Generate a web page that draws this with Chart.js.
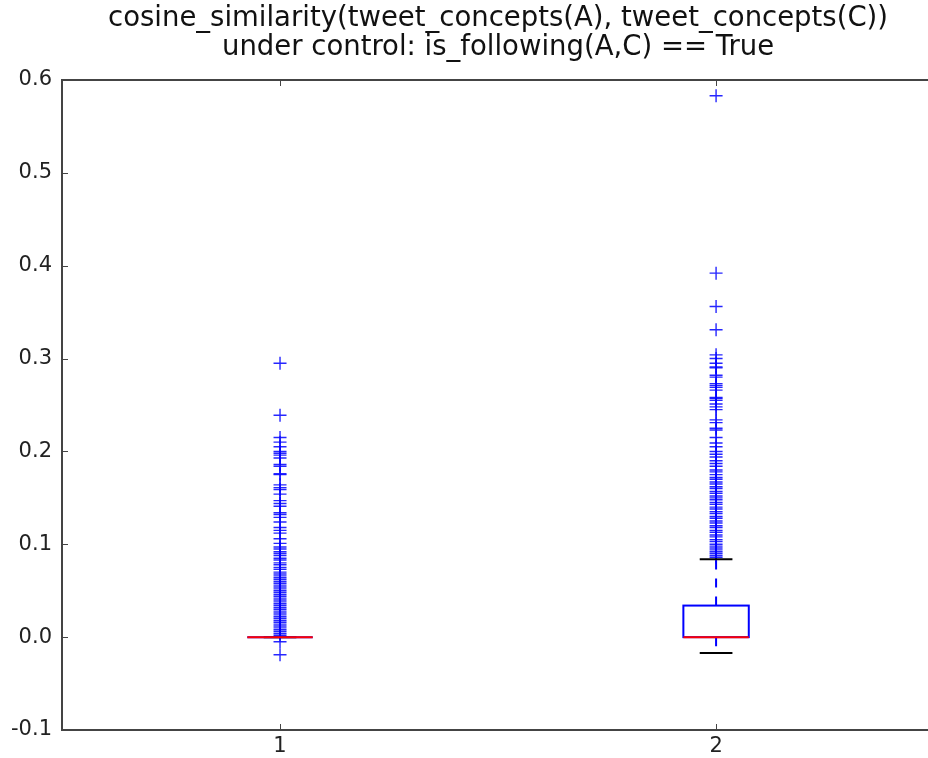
<!DOCTYPE html>
<html>
<head>
<meta charset="utf-8">
<script src="https://cdn.jsdelivr.net/npm/chart.js@4"></script>
<style>
  html, body { margin: 0; padding: 0; background: #fff; overflow: hidden; }
  #wrap { width: 928px; height: 758px; }
  canvas { display: block; }
</style>
</head>
<body>
<div id="wrap"><canvas id="boxChart" width="928" height="758"></canvas></div>
<script>
const titleLines = ['cosine_similarity(tweet_concepts(A), tweet_concepts(C))', 'under control: is_following(A,C) == True'];
const categories = ['1', '2'];
const xTicks = [1, 2];
const yTicks = [-0.1, 0.0, 0.1, 0.2, 0.3, 0.4, 0.5, 0.6];

// box stats per category
const q1 = [0, 0];
const medians = [0, 0];
const q3 = [0, 0.034];
const whiskerLow = [0, -0.017];
const whiskerHigh = [0, 0.084];

// fliers
const outliers1 = [0.295, 0.239, 0.215, 0.21, 0.205, 0.2, 0.198, 0.196, 0.193, 0.186, 0.184, 0.176, 0.175,
  0.164, 0.161, 0.159, 0.154, 0.147, 0.144, 0.141, 0.134, 0.132, 0.129, 0.124, 0.118, 0.115, 0.112,
  0.106, 0.101, 0.097, 0.095, 0.092, 0.09, 0.088, 0.085, 0.083, 0.08, 0.078, 0.075, 0.073, 0.07,
  0.068, 0.066, 0.064, 0.062, 0.06, 0.058, 0.056, 0.054, 0.052, 0.05, 0.048, 0.046, 0.044, 0.042,
  0.04, 0.038, 0.036, 0.034, 0.032, 0.03, 0.028, 0.026, 0.024, 0.022, 0.02, 0.018, 0.016, 0.014,
  0.012, 0.01, 0.008, 0.006, 0.004, 0.002, -0.005, -0.019];
const outliers2 = [0.583, 0.392, 0.356, 0.331, 0.304, 0.3, 0.295, 0.291, 0.29, 0.282, 0.28, 0.273, 0.271,
  0.269, 0.266, 0.258, 0.257, 0.255, 0.251, 0.248, 0.245, 0.234, 0.231, 0.225, 0.223, 0.215, 0.209,
  0.205, 0.2, 0.197, 0.194, 0.19, 0.187, 0.184, 0.18, 0.178, 0.175, 0.172, 0.17, 0.167, 0.165, 0.162,
  0.16, 0.157, 0.155, 0.152, 0.15, 0.148, 0.145, 0.143, 0.14, 0.138, 0.135, 0.133, 0.13, 0.128, 0.125,
  0.123, 0.12, 0.118, 0.115, 0.113, 0.11, 0.108, 0.105, 0.103, 0.1, 0.098, 0.096, 0.094, 0.092, 0.09,
  0.088, 0.086];

const BOX_W = 0.15;
const CAP_W = 0.075;
const FONT = '"DejaVu Sans", sans-serif';

const framePlugin = {
    id: 'frame',
    afterDraw(chart) {
        const { ctx, chartArea: a, scales: { x, y } } = chart;
        ctx.save();
        // title centred over the axes (axes run past the right edge of the page)
        ctx.fillStyle = '#111';
        ctx.font = '27.5px ' + FONT;
        ctx.textAlign = 'center';
        ctx.textBaseline = 'middle';
        const cx = (a.left + x.getPixelForValue(2.5)) / 2;
        titleLines.forEach((t, i) => ctx.fillText(t, cx, 19 + i * 29));
        // axes frame: top, left, bottom
        ctx.strokeStyle = '#444';
        ctx.lineWidth = 2;
        ctx.beginPath();
        ctx.moveTo(a.right + 5, a.top); ctx.lineTo(a.left, a.top);
        ctx.lineTo(a.left, a.bottom); ctx.lineTo(a.right + 5, a.bottom);
        ctx.stroke();
        // inward ticks
        ctx.lineWidth = 1;
        ctx.beginPath();
        yTicks.forEach(v => {
            const py = Math.round(y.getPixelForValue(v)) + 0.5;
            ctx.moveTo(a.left, py); ctx.lineTo(a.left + 6, py);
        });
        xTicks.forEach(v => {
            const px = Math.round(x.getPixelForValue(v)) + 0.5;
            ctx.moveTo(px, a.top); ctx.lineTo(px, a.top + 6);
            ctx.moveTo(px, a.bottom); ctx.lineTo(px, a.bottom - 6);
        });
        ctx.stroke();
        ctx.restore();
    }
};

const boxPlugin = {
    id: 'boxes',
    afterDatasetsDraw(chart) {
        const { ctx, scales: { x, y } } = chart;
        ctx.save();
        xTicks.forEach((pos, i) => {
            const xl = x.getPixelForValue(pos - BOX_W / 2);
            const xr = x.getPixelForValue(pos + BOX_W / 2);
            const xc = x.getPixelForValue(pos);
            const cl = x.getPixelForValue(pos - CAP_W / 2);
            const cr = x.getPixelForValue(pos + CAP_W / 2);
            const yq1 = y.getPixelForValue(q1[i]);
            const yq3 = y.getPixelForValue(q3[i]);
            const ylo = y.getPixelForValue(whiskerLow[i]);
            const yhi = y.getPixelForValue(whiskerHigh[i]);
            const ymed = y.getPixelForValue(medians[i]);

            // whiskers
            ctx.strokeStyle = '#0000ff';
            ctx.lineWidth = 2;
            ctx.setLineDash([9, 9]);
            ctx.beginPath();
            ctx.moveTo(xc, yq3); ctx.lineTo(xc, yhi);
            ctx.moveTo(xc, yq1); ctx.lineTo(xc, ylo);
            ctx.stroke();
            ctx.setLineDash([]);

            // caps
            ctx.strokeStyle = '#000';
            ctx.beginPath();
            ctx.moveTo(cl, yhi); ctx.lineTo(cr, yhi);
            ctx.moveTo(cl, ylo); ctx.lineTo(cr, ylo);
            ctx.stroke();

            // box
            ctx.strokeStyle = '#0000ff';
            ctx.strokeRect(xl, yq3, xr - xl, yq1 - yq3);

            // median
            ctx.strokeStyle = '#ff0000';
            ctx.beginPath();
            ctx.moveTo(xl, ymed); ctx.lineTo(xr, ymed);
            ctx.stroke();
        });
        ctx.restore();
    }
};

function flierSet(values, pos) {
    return {
        data: values.map(v => ({ x: pos, y: v })),
        pointStyle: 'cross',
        pointRadius: 6.5,
        pointHoverRadius: 6.5,
        borderColor: 'rgba(0,0,255,0.85)',
        backgroundColor: 'rgba(0,0,255,0.85)',
        borderWidth: 1.4,
        showLine: false
    };
}

new Chart(document.getElementById('boxChart').getContext('2d'), {
    type: 'scatter',
    data: {
        datasets: [flierSet(outliers1, xTicks[0]), flierSet(outliers2, xTicks[1])]
    },
    options: {
        responsive: false,
        animation: false,
        events: [],
        layout: { autoPadding: false, padding: { top: 80, right: 0, left: 0, bottom: 0 } },
        plugins: {
            legend: { display: false },
            title: { display: false },
            tooltip: { enabled: false }
        },
        scales: {
            x: {
                type: 'linear',
                min: 0.5,
                max: 2.486,
                afterBuildTicks: s => { s.ticks = xTicks.map(v => ({ value: v })); },
                afterFit: s => { s.height = 28; },
                grid: { display: false, drawTicks: false },
                border: { display: false },
                ticks: {
                    padding: 4,
                    color: '#222',
                    font: { family: FONT, size: 21 },
                    callback: (v) => categories[xTicks.indexOf(v)]
                }
            },
            y: {
                min: -0.1,
                max: 0.6,
                afterBuildTicks: s => { s.ticks = yTicks.map(v => ({ value: v })); },
                afterFit: s => { s.width = 62; },
                grid: { display: false, drawTicks: false },
                border: { display: false },
                ticks: {
                    padding: 10,
                    color: '#222',
                    font: { family: FONT, size: 21 },
                    callback: (v) => Number(v).toFixed(1)
                }
            }
        }
    },
    plugins: [boxPlugin, framePlugin]
});
</script>
</body>
</html>
